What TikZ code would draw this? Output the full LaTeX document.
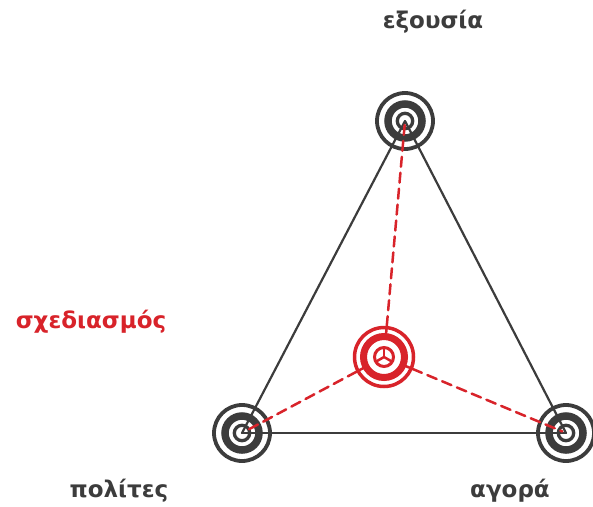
\documentclass[tikz,border=0pt]{standalone}
\usepackage{fontspec}
\setmainfont{DejaVu Sans}
\usepackage{tikz}
\usepackage{tkz-euclide}
\usetikzlibrary{calc}
\definecolor{ringgray}{HTML}{3C3C3C}
\definecolor{planred}{HTML}{D8232A}
\newcommand{\bullseye}[1]{%
  \draw[ringgray,line width=3.8pt] (#1) circle (28pt);
  \draw[ringgray,line width=7.5pt] (#1) circle (17pt);
  \draw[ringgray,line width=3.3pt] (#1) circle (7.7pt);}
\tikzset{lbl/.style={font=\bfseries\fontsize{23}{27}\selectfont,anchor=base}}

\begin{document}
\begin{tikzpicture}[x=1pt,y=-1pt]
  \useasboundingbox (0,0) rectangle (593,506);
  \tkzDefPoint(405,121){E}
  \tkzDefPoint(242,433){P}
  \tkzDefPoint(566,433){A}
  \tkzDefPoint(384,357){S}
  \tkzDrawSegments[color=ringgray,line width=2.2pt](E,P P,A A,E)
  \bullseye{E}
  \bullseye{P}
  \bullseye{A}
  \tkzDrawSegments[color=planred,line width=2.5pt,dash pattern=on 10pt off 6pt,
    shorten <=31pt,shorten >=4pt](S,E S,P S,A)
  % planning target
  \draw[planred,line width=3.5pt] (S) circle (29.5pt);
  \draw[planred,line width=7pt] (S) circle (20.5pt);
  \draw[planred,line width=3pt] (S) circle (9.5pt);
  \foreach \a in {90,210,330}
    \draw[planred,line width=2.5pt] (S) -- ++(\a:9.5pt);
  \foreach \v in {E,P,A}
    \draw[planred,line width=2.5pt] ($(S)!23pt!(\v)$) -- ($(S)!31pt!(\v)$);
  \node[lbl,text=ringgray] (exousia) at (433,28) {εξουσία};
  \node[lbl,text=planred] (sxediasmos) at (91,328) {σχεδιασμός};
  \node[lbl,text=ringgray] (polites) at (119,497) {πολίτες};
  \node[lbl,text=ringgray] (agora) at (510,497) {αγορά};
\end{tikzpicture}
\end{document}
